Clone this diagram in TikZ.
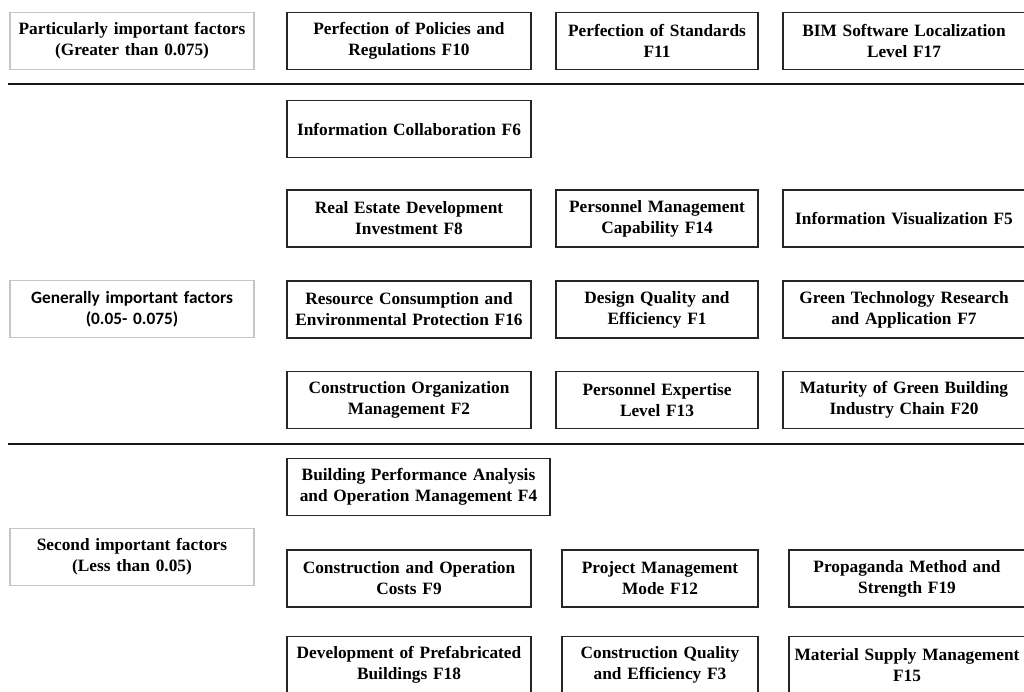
\documentclass[tikz,border=0pt]{standalone}
\usepackage{fontspec}
\setmainfont{Liberation Serif}
\newfontfamily\calibrifont{Carlito}
\usetikzlibrary{positioning}

\tikzset{
    factor/.style={draw=black!85, line width=1.6pt, inner xsep=0pt, inner ysep=0pt, minimum height=57pt, align=center, font=\fontsize{17.3}{21}\selectfont\bfseries},
    level/.style={factor, draw=gray!45},
    divider/.style={line width=2.8pt, black!90}
}

\begin{document}
\begin{tikzpicture}[x=1pt, y=-1pt]
            \useasboundingbox (0, 0) rectangle (1024, 691);
            \clip (0, 0) rectangle (1024, 691);

            % particularly important
            \node[level, text width=244pt] (catA) at (132, 41) {Particularly important factors\\(Greater than 0.075)};
            \node[factor, text width=244pt] (f10) at (409, 41) {Perfection of Policies and\\Regulations F10};
            \node[factor, text width=202pt] (f11) at (657, 41) {Perfection of Standards\\F11};
            \node[factor, text width=242pt] (f17) at (904, 41) {BIM Software Localization\\Level F17};

            \coordinate (l1a) at (8, 84);
            \coordinate (l1b) at (1024, 84);
            \draw[divider] (l1a) -- (l1b);

            % generally important
            \node[factor, text width=244pt] (f6) at (409, 129) {Information Collaboration F6};

            \node[factor, text width=244pt] (f8) at (409, 218.5) {Real Estate Development\\Investment F8};
            \node[factor, text width=202pt] (f14) at (657, 218.5) {Personnel Management\\Capability F14};
            \node[factor, text width=242pt] (f5) at (904, 218.5) {Information Visualization F5};

            \node[level, text width=244pt, font=\fontsize{17.3}{21}\selectfont\calibrifont\bfseries] (catB) at (132, 309) {Generally important factors\\(0.05- 0.075)};
            \node[factor, text width=244pt] (f16) at (409, 309.5) {Resource Consumption and\\Environmental Protection F16};
            \node[factor, text width=202pt] (f1) at (657, 309.5) {Design Quality and\\Efficiency F1};
            \node[factor, text width=242pt] (f7) at (904, 309.5) {Green Technology Research\\and Application F7};

            \node[factor, text width=244pt] (f2) at (409, 400) {Construction Organization\\Management F2};
            \node[factor, text width=202pt] (f13) at (657, 400) {Personnel Expertise\\Level F13};
            \node[factor, text width=242pt] (f20) at (904, 400) {Maturity of Green Building\\Industry Chain F20};

            \coordinate (l2a) at (8, 444);
            \coordinate (l2b) at (1024, 444);
            \draw[divider] (l2a) -- (l2b);

            % second important
            \node[factor, text width=263pt] (f4) at (418.5, 487) {Building Performance Analysis\\and Operation Management F4};

            \node[level, text width=244pt] (catC) at (132, 557) {Second important factors\\(Less than 0.05)};
            \node[factor, text width=244pt] (f9) at (409, 578.5) {Construction and Operation\\Costs F9};
            \node[factor, text width=196pt] (f12) at (660, 578.5) {Project Management\\Mode F12};
            \node[factor, text width=236pt] (f19) at (907, 578.5) {Propaganda Method and\\Strength F19};

            \node[factor, text width=244pt] (f18) at (409, 665) {Development of Prefabricated\\Buildings F18};
            \node[factor, text width=196pt] (f3) at (660, 665) {Construction Quality\\and Efficiency F3};
            \node[factor, text width=236pt] (f15) at (907, 665) {Material Supply Management\\F15};
        \end{tikzpicture}
\end{document}
